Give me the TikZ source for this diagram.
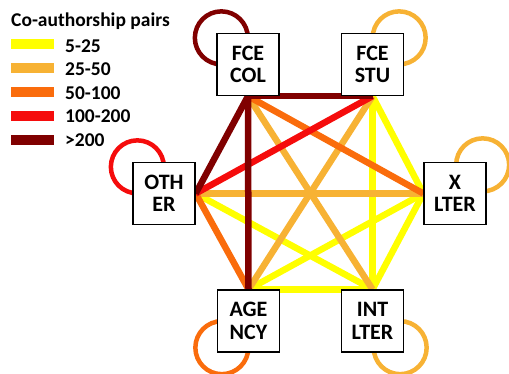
\documentclass[tikz,border=0pt]{standalone}
\usepackage{fontspec}
\setmainfont{Carlito}
\usetikzlibrary{backgrounds}
\definecolor{ylw}{RGB}{255,255,0}
\definecolor{lor}{RGB}{247,178,52}
\definecolor{org}{RGB}{250,108,12}
\definecolor{rd}{RGB}{245,12,12}
\definecolor{drd}{RGB}{128,0,0}

\begin{document}
\begin{tikzpicture}[x=1pt,y=-1pt,
    unit/.style={draw,line width=1.3pt,fill=white,minimum width=62pt,minimum height=62pt,
      inner sep=0pt,align=center,font=\fontsize{22}{22.5}\selectfont\bfseries},
    link/.style={line width=6.5pt},
    selfloop/.style={line width=4.5pt},
    key/.style={font=\fontsize{19.5}{20}\selectfont\bfseries,anchor=base west,inner sep=0pt}]
    \useasboundingbox (0,0) rectangle (509,373);

    % legend
    \node[key] (title) at (11,26) {Co-authorship pairs};
    \foreach \c/\t [count=\i from 0] in {ylw/5-25,lor/25-50,org/50-100,rd/100-200,drd/{>200}} {
      \fill[\c] (11,39+24*\i) rectangle ++(43,10);
      \node[key] (lab\i) at (65,52.5+23.4*\i) {\t};
    }

    % groups
    \node[unit] (col) at (248,64.5) {FCE\\COL};
    \node[unit] (stu) at (372.5,64.5) {FCE\\STU};
    \node[unit] (oth) at (164,193.5) {OTH\\ER};
    \node[unit] (xlt) at (455,193.5) {X\\LTER};
    \node[unit] (age) at (248.5,321) {AGE\\NCY};
    \node[unit] (itl) at (372.5,321) {INT\\LTER};

    \begin{scope}[on background layer]
      % pairs between groups
      \draw[link,ylw] (stu.south) -- (xlt.west);
      \draw[link,ylw] (stu.south) -- (itl.north);
      \draw[link,ylw] (oth.east) -- (itl.north);
      \draw[link,ylw] (xlt.west) -- (age.north);
      \draw[link,ylw] (xlt.west) -- (itl.north);
      \draw[link,ylw] (age.north) -- (itl.north);
      \draw[link,lor] (col.south) -- (itl.north);
      \draw[link,lor] (stu.south) -- (age.north);
      \draw[link,lor] (oth.east) -- (xlt.west);
      \draw[link,org] (col.south) -- (xlt.west);
      \draw[link,org] (oth.east) -- (age.north);
      \draw[link,rd] (stu.south) -- (oth.east);
      \draw[link,drd] (col.south) -- (stu.south);
      \draw[link,drd] (col.south) -- (oth.east);
      \draw[link,drd] (col.south) -- (age.north);

      % pairs inside a group
      \draw[selfloop,drd] ([shift={(5,5)}]col.north west) circle[radius=26.5];
      \draw[selfloop,lor] ([shift={(-5,5)}]stu.north east) circle[radius=26.5];
      \draw[selfloop,rd] ([shift={(5,5)}]oth.north west) circle[radius=26.5];
      \draw[selfloop,lor] ([shift={(-4,3)}]xlt.north east) circle[radius=26.5];
      \draw[selfloop,org] ([shift={(5,-5)}]age.south west) circle[radius=26.5];
      \draw[selfloop,lor] ([shift={(-4,-5)}]itl.south east) circle[radius=26.5];
    \end{scope}
\end{tikzpicture}
\end{document}
